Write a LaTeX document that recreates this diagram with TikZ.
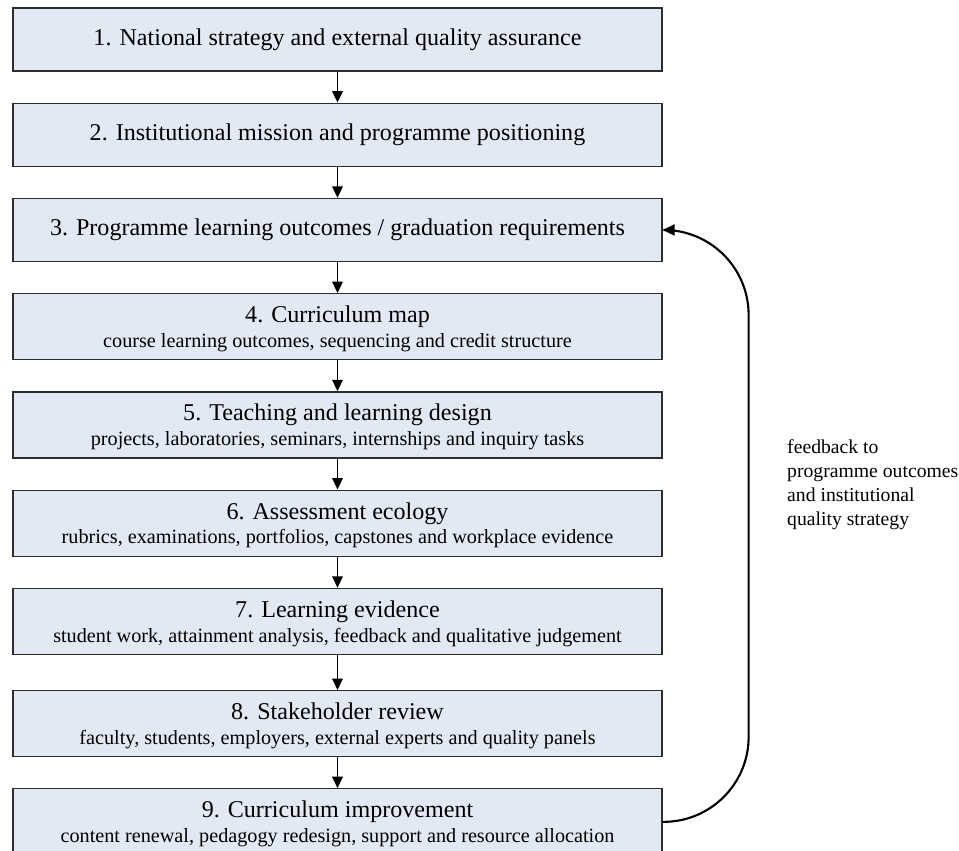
\documentclass[tikz,border=0pt]{standalone}
\usepackage{fontspec}
\setmainfont{Liberation Serif}
\usetikzlibrary{positioning,arrows.meta}
\definecolor{stagefill}{RGB}{226,233,244}
\definecolor{stageline}{RGB}{45,45,45}
\newcommand{\subline}[1]{{\fontsize{11.5}{12}\selectfont #1}}
\tikzset{
    stage/.style = {
        draw = stageline,
        fill = stagefill,
        line width = 0.7pt,
        minimum width = 12.98cm,
        minimum height = 1.26cm,
        inner sep = 0pt,
        align = center,
        font = \fontsize{13.7}{14}\selectfont,
        },
    stage two/.style = {
        stage,
        minimum height = 1.32cm,
        text depth = 0pt,
        },
    flow/.style = {
        draw,
        line width = 1.1pt,
        -{Triangle[length=2.3mm,width=2.1mm]},
        },
    feedback/.style = {
        draw,
        line width = 1.2pt,
        rounded corners = 1.7cm,
        -{Triangle[length=2.4mm,width=2.2mm]},
        },
    note/.style = {
        align = left,
        anchor = west,
        font = \fontsize{11.2}{13.6}\selectfont,
        },
}
\begin{document}
\begin{tikzpicture}[node distance=0.62cm]
    \useasboundingbox[fill=white] (0,0) rectangle (19.18,-17);
    \node[stage] (n1) at (6.75,-0.79) {1. National strategy and external quality assurance};
    \node[stage, below=of n1] (n2) {2. Institutional mission and programme positioning};
    \node[stage, below=of n2] (n3) {3. Programme learning outcomes / graduation requirements};
    \node[stage two, below=of n3] (n4) {4. Curriculum map\\\subline{course learning outcomes, sequencing and credit structure}};
    \node[stage two, below=of n4] (n5) {5. Teaching and learning design\\\subline{projects, laboratories, seminars, internships and inquiry tasks}};
    \node[stage two, below=of n5] (n6) {6. Assessment ecology\\\subline{rubrics, examinations, portfolios, capstones and workplace evidence}};
    \node[stage two, below=of n6] (n7) {7. Learning evidence\\\subline{student work, attainment analysis, feedback and qualitative judgement}};
    \node[stage two, below=0.7cm of n7] (n8) {8. Stakeholder review\\\subline{faculty, students, employers, external experts and quality panels}};
    \node[stage two, below=of n8] (n9) {9. Curriculum improvement\\\subline{content renewal, pedagogy redesign, support and resource allocation}};

    \foreach \a/\b in {n1/n2,n2/n3,n3/n4,n4/n5,n5/n6,n6/n7,n7/n8,n8/n9}
        \path[flow] (\a) -- (\b);

    % loop back to the outcomes
    \path[feedback] (n9.east) -- ++(1.72,0) |- (n3.east);
    \node[note] (fb) at (15.62,-9.7) {feedback to\\programme outcomes\\and institutional\\quality strategy};
\end{tikzpicture}
\end{document}
